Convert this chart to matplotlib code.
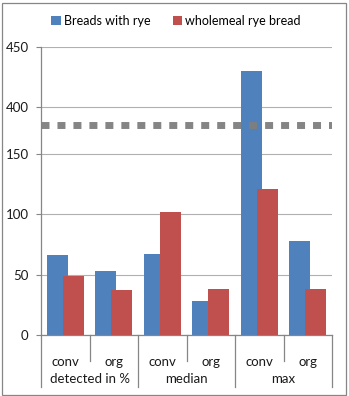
import numpy as np
import matplotlib
matplotlib.use("Agg")
import matplotlib.pyplot as plt
from matplotlib.patches import Rectangle, Patch
from matplotlib.lines import Line2D

plt.rcParams['font.family'] = ['Lato', 'DejaVu Sans']

# Data
groups = ["detected in %", "median", "max"]
subcats = ["conv", "org", "conv", "org", "conv", "org"]
series_names = ["Breads with rye", "wholemeal rye bread"]
breads_with_rye = [66, 53, 67, 28, 430, 78]
wholemeal_rye = [49, 37, 102, 38, 121, 38]
yticks = [0, 50, 100, 150, 400, 450]

BLUE = "#4F81BD"
RED = "#C0504D"

# Broken axis: 150..400 compressed, above 400 shifted down
def fwd(v):
    v = np.asarray(v, dtype=float)
    return np.where(v <= 150, v,
                    np.where(v >= 400, v - 211, 150 + (v - 150) * 39 / 250))

def inv(u):
    u = np.asarray(u, dtype=float)
    return np.where(u <= 150, u,
                    np.where(u >= 189, u + 211, 150 + (u - 150) * 250 / 39))

W, H = 349, 396
fig = plt.figure(figsize=(W / 100, H / 100), dpi=100)
ax = fig.add_axes([41 / W, (H - 335) / H, (332 - 41) / W, (335 - 47) / H])

ax.set_yscale('function', functions=(fwd, inv))
ax.set_ylim(0, 450)
ax.set_xlim(0, 6)

x = np.arange(len(subcats)) + 0.5
bw = 0.433
ax.bar(x - 0.16, breads_with_rye, width=bw, color=BLUE, zorder=2)
ax.bar(x + 0.17, wholemeal_rye, width=bw, color=RED, zorder=3)

# Axis break marker
ax.axhline(305, color="#7F7F7F", lw=5.0, dashes=(1.15, 1.15),
           solid_capstyle='butt', dash_capstyle='butt', zorder=4, alpha=0.95)

ax.set_yticks(yticks)
ax.set_yticklabels([str(t) for t in yticks], fontsize=9.5, color="#1a1a1a")
ax.yaxis.grid(True, color="#B0B0B0", lw=0.8, zorder=0)
ax.set_axisbelow(True)
ax.tick_params(axis='y', length=3.5, width=0.8, color="#868686", pad=5.5)
ax.tick_params(axis='x', length=0, labelbottom=False)

for s in ['top', 'right']:
    ax.spines[s].set_visible(False)
ax.spines['left'].set_color("#868686")
ax.spines['bottom'].set_color("#868686")
ax.spines['left'].set_linewidth(0.9)
ax.spines['bottom'].set_linewidth(0.9)

# Category separators below the axis
span = 335 - 47
sep_short = (361 - 335) / span
sep_long = (387 - 335) / span
trans = ax.get_xaxis_transform()
for b in range(7):
    depth = sep_long if b % 2 == 0 else sep_short
    ax.add_line(Line2D([b, b], [0, -depth], transform=trans, color="#868686",
                       lw=0.9, clip_on=False))

for xi, lab in zip(x, subcats):
    ax.text(xi, -(362 - 335) / span, lab, transform=trans,
            ha='center', va='center', fontsize=9.5, color="#1a1a1a")
for gi, g in enumerate(groups):
    ax.text(2 * gi + 1, -(379 - 335) / span, g, transform=trans,
            ha='center', va='center', fontsize=9.5, color="#1a1a1a")

# Legend
handles = [Patch(facecolor=BLUE, edgecolor='none'), Patch(facecolor=RED, edgecolor='none')]
fig.legend(handles, series_names, loc='center', bbox_to_anchor=(176 / W, 1 - 21 / H),
           ncol=2, frameon=False, fontsize=9, handlelength=0.75, handleheight=0.75,
           handletextpad=0.25, columnspacing=1.8, borderpad=0)

# Chart border
fig.add_artist(Rectangle((1.5 / W, 1.5 / H), (W - 4.5) / W, (H - 4.5) / H,
                         transform=fig.transFigure, fill=False,
                         edgecolor="#868686", lw=0.9))

fig.savefig("out.png", dpi=100)
